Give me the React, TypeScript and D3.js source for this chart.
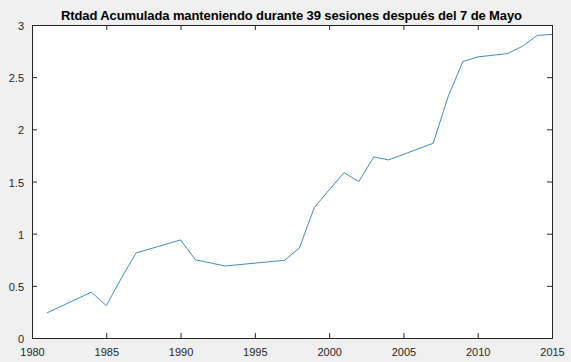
import * as d3 from 'd3'
import { useEffect, useRef } from 'react'

const WIDTH = 571
const HEIGHT = 362
const MARGIN = { LEFT: 32, RIGHT: 19, TOP: 25, BOTTOM: 24 }

const TITLE = 'Rtdad Acumulada manteniendo durante 39 sesiones después del 7 de Mayo'

// years and cumulative return
const years = [1981, 1984, 1985, 1986, 1987, 1990, 1991, 1993, 1997, 1998, 1999, 2000, 2001, 2002, 2003, 2004, 2007, 2008, 2009, 2010, 2012, 2013, 2014, 2015]
const values = [0.24, 0.44, 0.31, 0.57, 0.815, 0.94, 0.75, 0.69, 0.745, 0.863, 1.25, 1.42, 1.585, 1.5, 1.735, 1.707, 1.866, 2.31, 2.65, 2.694, 2.726, 2.795, 2.9, 2.91]

const xTicks = [1980, 1985, 1990, 1995, 2000, 2005, 2010, 2015]
const yTicks = [0, 0.5, 1, 1.5, 2, 2.5, 3]

const App = () => {
  const ref = useRef<SVGSVGElement>(null)

  useEffect(() => {
    const svg = d3.select(ref.current)
    svg.selectAll('*').remove()

    const w = WIDTH - MARGIN.LEFT - MARGIN.RIGHT
    const h = HEIGHT - MARGIN.TOP - MARGIN.BOTTOM

    svg.append('rect').attr('width', WIDTH).attr('height', HEIGHT).attr('fill', '#f0f0f0')

    const g = svg.append('g').attr('transform', `translate(${MARGIN.LEFT},${MARGIN.TOP})`)

    const x = d3.scaleLinear().domain([1980, 2015]).range([0, w])
    const y = d3.scaleLinear().domain([0, 3]).range([h, 0])

    g.append('rect').attr('width', w).attr('height', h).attr('fill', '#ffffff')

    const font = 'Arial, "Liberation Sans", Helvetica, sans-serif'
    const axisColor = '#262626'

    const styleAxis = (sel: any) => {
      sel.select('.domain').remove()
      sel.selectAll('line').attr('stroke', axisColor)
      sel.selectAll('text')
        .attr('fill', axisColor)
        .style('font-family', font)
        .style('font-size', '11px')
    }

    // bottom + left with labels, ticks pointing in
    g.append('g')
      .attr('transform', `translate(0,${h})`)
      .call(d3.axisBottom(x).tickValues(xTicks).tickFormat(d3.format('d')).tickSizeInner(-5).tickSizeOuter(0).tickPadding(10))
      .call(styleAxis)

    g.append('g')
      .call(d3.axisLeft(y).tickValues(yTicks).tickFormat((d: any) => String(d)).tickSizeInner(-5).tickSizeOuter(0).tickPadding(8))
      .call(styleAxis)
      .selectAll('text').attr('dy', '0.42em')

    // box ticks on top and right
    g.append('g')
      .call(d3.axisTop(x).tickValues(xTicks).tickFormat(() => '').tickSizeInner(-5).tickSizeOuter(0))
      .call(styleAxis)
    g.append('g')
      .attr('transform', `translate(${w},0)`)
      .call(d3.axisRight(y).tickValues(yTicks).tickFormat(() => '').tickSizeInner(-5).tickSizeOuter(0))
      .call(styleAxis)

    g.append('rect')
      .attr('width', w).attr('height', h)
      .attr('fill', 'none').attr('stroke', axisColor).attr('stroke-width', 1)
      .attr('shape-rendering', 'crispEdges')

    const line = d3.line<number>()
      .x((d, i) => x(years[i]))
      .y(d => y(d))

    g.append('path')
      .datum(values)
      .attr('d', line)
      .attr('fill', 'none')
      .attr('stroke', '#2a7fbf')
      .attr('stroke-width', 0.9)

    svg.append('text')
      .attr('x', 61)
      .attr('y', 20)
      .attr('textLength', 461)
      .attr('lengthAdjust', 'spacing')
      .attr('fill', '#000')
      .style('font-family', font)
      .style('font-size', '13px')
      .style('font-weight', 'bold')
      .text(TITLE)
  }, [])

  return <div style={{ position: 'fixed', left: 0, top: 0 }}>
    <svg ref={ref} width={WIDTH} height={HEIGHT} style={{ display: 'block' }}></svg>
  </div>
}

export default App
